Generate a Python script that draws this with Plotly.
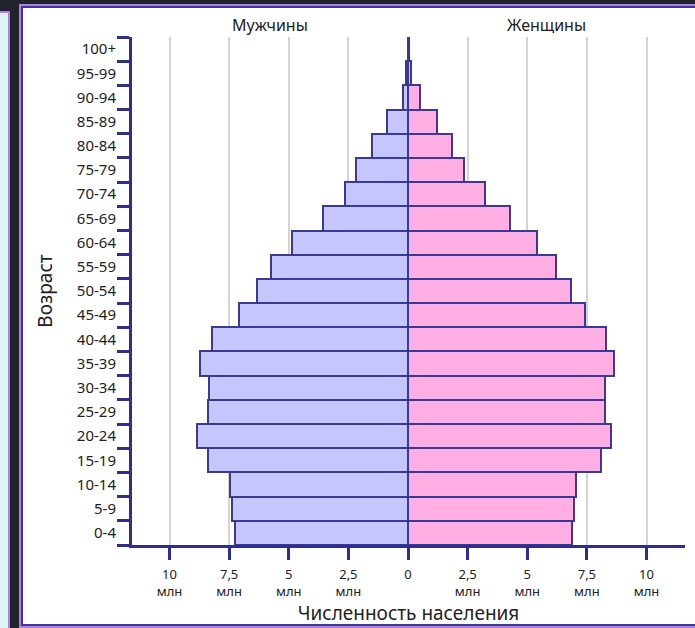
import plotly.graph_objects as go

# ---- data ----
age_groups = ["0-4", "5-9", "10-14", "15-19", "20-24", "25-29", "30-34", "35-39",
              "40-44", "45-49", "50-54", "55-59", "60-64", "65-69", "70-74",
              "75-79", "80-84", "85-89", "90-94", "95-99", "100+"]
male_mln = [7.24, 7.37, 7.48, 8.4, 8.83, 8.4, 8.34, 8.72, 8.2, 7.09, 6.35, 5.76,
            4.86, 3.55, 2.64, 2.18, 1.5, 0.89, 0.2, 0.07, 0.01]
female_mln = [6.89, 6.96, 7.04, 8.09, 8.5, 8.26, 8.26, 8.65, 8.29, 7.43, 6.83, 6.2,
              5.4, 4.28, 3.23, 2.35, 1.83, 1.2, 0.5, 0.12, 0.02]
x_tickvals = [-10, -7.5, -5, -2.5, 0, 2.5, 5, 7.5, 10]
x_ticktext = ["10", "7,5", "5", "2,5", "0", "2,5", "5", "7,5", "10"]
x_unit = "млн"

# ---- geometry (pixels) ----
W, H = 695, 628
L, R, T, B = 132, 685, 37, 545


def px(x):
    return (x - L) / (R - L)


def py(y):
    return (B - y) / (B - T)


NAVY = "#2e2e8c"
OUTLINE = "#3a3a96"
FONT = "Noto Sans"
TXT = "#222222"

tick_labels = [t + ("<br>" + x_unit if v != 0 else "")
               for v, t in zip(x_tickvals, x_ticktext)]

fig = go.Figure()
fig.add_trace(go.Bar(
    y=age_groups, x=[-v for v in male_mln], orientation="h", name="Мужчины",
    marker=dict(color="#c5c6fe", line=dict(color=OUTLINE, width=2)),
))
fig.add_trace(go.Bar(
    y=age_groups, x=female_mln, orientation="h", name="Женщины",
    marker=dict(color="#ffaee4", line=dict(color=OUTLINE, width=2)),
))

shapes = [
    # left neighbour panel
    dict(type="rect", xref="paper", yref="paper", layer="below",
         x0=px(-4), x1=px(9), y0=py(640), y1=py(12),
         fillcolor="#e0f4fb", line=dict(color="#b57be6", width=2)),
    # main white panel (outer purple, inner navy)
    dict(type="rect", xref="paper", yref="paper", layer="below",
         x0=px(19), x1=px(710), y0=py(628), y1=py(4),
         fillcolor="#b57be6", line=dict(width=0)),
    dict(type="rect", xref="paper", yref="paper", layer="below",
         x0=px(21), x1=px(710), y0=py(626), y1=py(6),
         fillcolor="#3a3a96", line=dict(width=0)),
    dict(type="rect", xref="paper", yref="paper", layer="below",
         x0=px(23), x1=px(710), y0=py(624), y1=py(8),
         fillcolor="#ffffff", line=dict(width=0)),
]

annotations = [
    dict(text="Мужчины", xref="paper", yref="paper", x=0.25, y=py(25),
         showarrow=False, xanchor="center", yanchor="middle",
         font=dict(size=16, color=TXT, family=FONT)),
    dict(text="Женщины", xref="paper", yref="paper", x=0.75, y=py(25),
         showarrow=False, xanchor="center", yanchor="middle",
         font=dict(size=16, color=TXT, family=FONT)),
]

fig.update_layout(
    width=W, height=H,
    margin=dict(l=L, r=W - R, t=T, b=H - B, autoexpand=False),
    paper_bgcolor="#20232c",
    plot_bgcolor="rgba(0,0,0,0)",
    barmode="overlay", bargap=0,
    showlegend=False,
    font=dict(family=FONT, color=TXT, size=15),
    shapes=shapes,
    annotations=annotations,
    xaxis=dict(
        range=[(L - 408) / 23.85, (R - 408) / 23.85],
        tickvals=x_tickvals, ticktext=tick_labels,
        tickfont=dict(size=13, color=TXT),
        ticks="outside", ticklen=12, tickwidth=3, tickcolor=NAVY,
        showline=True, linecolor=NAVY, linewidth=3,
        showgrid=True, gridcolor="#d4d4d4", gridwidth=2,
        zeroline=True, zerolinecolor=NAVY, zerolinewidth=3,
        ticklabelstandoff=3,
        automargin=False,
        title=dict(text="Численность населения", font=dict(size=19, color=TXT),
                   standoff=9),
        fixedrange=True,
    ),
    yaxis=dict(
        type="category", categoryorder="array", categoryarray=age_groups,
        range=[-0.5, len(age_groups) - 0.5],
        tickson="boundaries",
        ticks="outside", ticklen=12, tickwidth=3, tickcolor=NAVY,
        showline=True, linecolor=NAVY, linewidth=3,
        showgrid=False, zeroline=False,
        tickfont=dict(size=15, color=TXT),
        ticklabelstandoff=10,
        automargin=False,
        title=dict(text="Возраст", font=dict(size=19, color=TXT), standoff=20),
        fixedrange=True,
    ),
)

fig.write_html("out.html", config={"displayModeBar": False},
               post_script="document.body.style.margin='0';")
